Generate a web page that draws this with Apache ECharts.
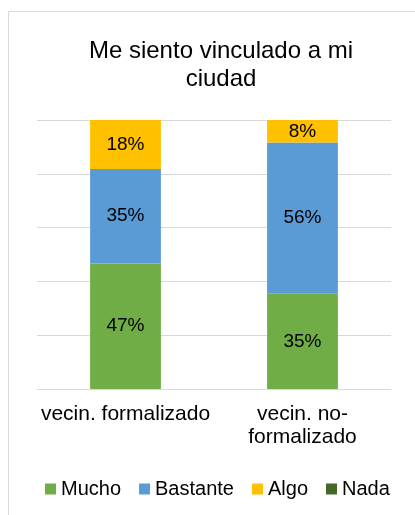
<!DOCTYPE html>
<html>
<head>
<meta charset="utf-8">
<script src="https://cdn.jsdelivr.net/npm/echarts@6/dist/echarts.min.js"></script>
<style>
  html, body { margin: 0; padding: 0; background: #fff; }
  #myChart { width: 415px; height: 515px; }
</style>
</head>
<body>
<div id="myChart"></div>
<script>
// datos
var titulo = 'Me siento vinculado a mi\nciudad'
var categorias = ['vecin. formalizado', 'vecin. no-\nformalizado']
var mucho = [46.7, 35.4]
var bastante = [35.1, 56.2]
var algo = [18.2, 8.4]
var nada = [0, 0]

var colores = ['#70AD47', '#5B9BD5', '#FFC000', '#43682B']
var fuente = 'Liberation Sans, Arial, sans-serif'

function serie (name, data, color) {
  return {
    name: name,
    type: 'bar',
    stack: 'total',
    barWidth: '40%',
    data: data,
    itemStyle: { color: color },
    label: {
      show: true,
      position: 'inside',
      color: '#000',
      fontSize: 19,
      fontFamily: fuente,
      formatter: function (p) {
        return p.value > 0 ? Math.round(p.value) + '%' : ''
      }
    }
  }
}

var myChart = echarts.init(document.getElementById('myChart'))
myChart.setOption({
  animation: false,
  textStyle: { fontFamily: fuente },
  title: {
    text: titulo,
    left: 216,
    textAlign: 'center',
    top: 32,
    textStyle: {
      fontSize: 24,
      fontWeight: 'normal',
      color: '#000',
      lineHeight: 28,
      fontFamily: fuente
    }
  },
  graphic: [
    {
      type: 'rect',
      shape: { x: 8.5, y: 11.5, width: 420, height: 520 },
      style: { fill: 'none', stroke: '#D9D9D9', lineWidth: 1 },
      silent: true
    }
  ],
  legend: {
    data: ['Mucho', 'Bastante', 'Algo', 'Nada'],
    bottom: 11,
    left: 40,
    itemWidth: 11,
    itemHeight: 11,
    itemGap: 18,
    icon: 'rect',
    textStyle: { fontSize: 20, color: '#000', fontFamily: fuente }
  },
  grid: {
    left: 37,
    right: 24,
    top: 120,
    bottom: 126,
    containLabel: false
  },
  xAxis: {
    type: 'category',
    data: categorias,
    axisLine: { lineStyle: { color: '#D9D9D9' } },
    axisTick: { show: false },
    axisLabel: {
      color: '#000',
      fontSize: 21,
      lineHeight: 23,
      margin: 14,
      interval: 0,
      fontFamily: fuente
    }
  },
  yAxis: {
    type: 'value',
    min: 0,
    max: 100,
    interval: 20,
    axisLabel: { show: false },
    axisLine: { show: false },
    axisTick: { show: false },
    splitLine: { lineStyle: { color: '#D9D9D9' } }
  },
  series: [
    serie('Mucho', mucho, colores[0]),
    serie('Bastante', bastante, colores[1]),
    serie('Algo', algo, colores[2]),
    serie('Nada', nada, colores[3])
  ]
})
</script>
</body>
</html>
